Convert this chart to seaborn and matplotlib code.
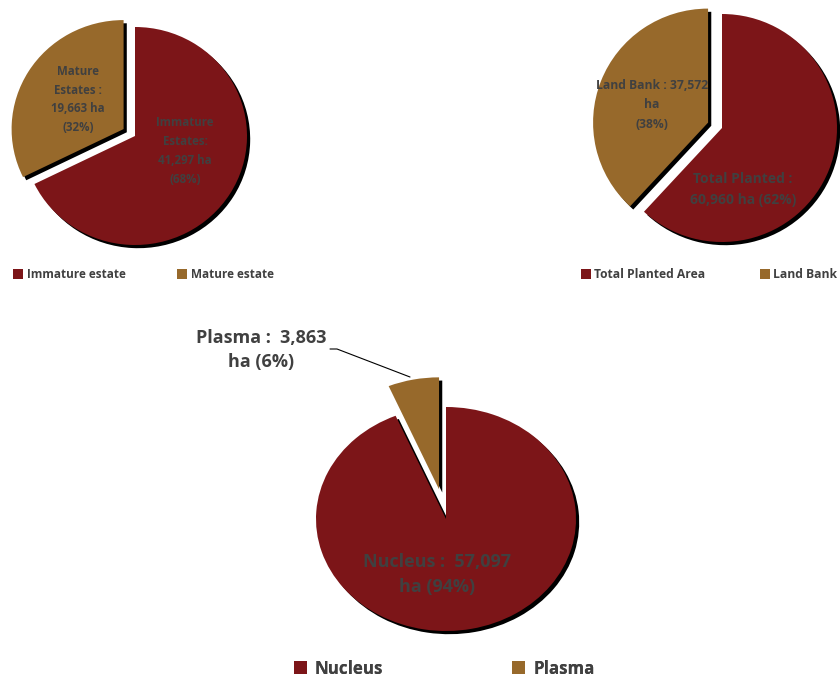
import matplotlib
matplotlib.use("Agg")
import matplotlib.pyplot as plt
import matplotlib.transforms as mtransforms
import seaborn as sns

sns.set_theme(style="white")
plt.rcParams["font.family"] = ["Open Sans", "DejaVu Sans"]

# Estate maturity breakdown (ha)
estate_labels = ["Immature estate", "Mature estate"]
estate_names = ["Immature\nEstates:", "Mature\nEstates :"]
estate_ha = [41297, 19663]
estate_pct = [68, 32]

# Planted area vs land bank (ha)
area_labels = ["Total Planted Area", "Land Bank"]
area_ha = [60960, 37572]
area_pct = [62, 38]

# Nucleus vs plasma scheme (ha)
scheme_labels = ["Nucleus", "Plasma"]
scheme_ha = [57097, 3863]
scheme_pct = [94, 6]

W, H = 840, 677
palette = sns.color_palette(["#7C1518", "#97692B"])
TEXT = "#404040"

fig = plt.figure(figsize=(W / 100, H / 100), dpi=100)
fig.patch.set_facecolor("white")


def draw_pie(values, cx, cy, rx, ry, explode):
    """Pie with its centre at pixel (cx, cy) and pixel radii rx, ry."""
    ax = fig.add_axes([0, 0, 1, 1])
    ax.patch.set_alpha(0)
    shift = mtransforms.ScaledTranslation(2.3 / 72, -2.3 / 72, fig.dpi_scale_trans)
    kw = dict(startangle=90, counterclock=False, explode=[0, explode],
              wedgeprops=dict(linewidth=0))
    shadows, _ = ax.pie(values, colors=["black", "black"], **kw)
    for s in shadows:
        s.set_transform(ax.transData + shift)
    wedges, _ = ax.pie(values, colors=palette, **kw)
    ax.set_aspect("auto")
    ax.set_xlim(-cx / rx, (W - cx) / rx)
    ax.set_ylim(-(H - cy) / ry, cy / ry)
    ax.axis("off")
    return wedges


w1 = draw_pie(estate_ha, 135, 136, 112, 109, 0.12)
w2 = draw_pie(area_ha, 722, 128, 115, 114, 0.13)
w3 = draw_pie(scheme_ha, 446, 519, 130, 112, 0.27)

ov = fig.add_axes([0, 0, 1, 1])
ov.patch.set_alpha(0)
ov.set_xlim(0, W)
ov.set_ylim(H, 0)
ov.axis("off")

bold = dict(color=TEXT, fontweight="bold", ha="center", va="center")

# Slice labels
ov.text(185, 151, f"{estate_names[0]}\n{estate_ha[0]:,} ha\n({estate_pct[0]}%)",
        fontsize=8.3, linespacing=1.58, **bold)
ov.text(78, 99.5, f"{estate_names[1]}\n{estate_ha[1]:,} ha\n({estate_pct[1]}%)",
        fontsize=8.3, linespacing=1.58, **bold)
ov.text(743, 189.5, f"Total Planted :\n{area_ha[0]:,} ha ({area_pct[0]}%)",
        fontsize=10, linespacing=1.6, **bold)
ov.text(652, 105, f"Land Bank : {area_ha[1]:,}\nha\n({area_pct[1]}%)",
        fontsize=8.7, linespacing=1.65, **bold)
ov.text(437, 574.5, f"Nucleus :  {scheme_ha[0]:,}\nha ({scheme_pct[0]}%)",
        fontsize=13, linespacing=1.48, **bold)
ov.text(261, 350, f"Plasma :  {scheme_ha[1]:,}\nha ({scheme_pct[1]}%)",
        fontsize=13, linespacing=1.48, **bold)

# Leader line for the small plasma slice
ov.plot([330, 337, 410], [349, 349, 377], color="black", lw=0.8)


def add_legend(handles, labels, x, y, size_pt, box_px, pad_px, gap_px):
    em = size_pt * 100 / 72
    leg = ov.legend(handles, labels, ncol=2, loc="center left",
                    bbox_to_anchor=(x / W, 1 - y / H), bbox_transform=fig.transFigure,
                    frameon=False, borderpad=0, borderaxespad=0,
                    handlelength=box_px / em, handleheight=box_px / em,
                    handletextpad=pad_px / em, columnspacing=gap_px / em,
                    prop=dict(weight="bold", size=size_pt), labelcolor=TEXT)
    ov.add_artist(leg)
    return leg


add_legend(w1, estate_labels, 13, 274.5, 8.5, 10, 4, 51)
add_legend(w2, area_labels, 581, 274.5, 8.7, 10, 3, 55)
add_legend(w3, scheme_labels, 294, 668.5, 12.2, 13, 8, 129)

fig.savefig("out.png", dpi=100, facecolor="white")
